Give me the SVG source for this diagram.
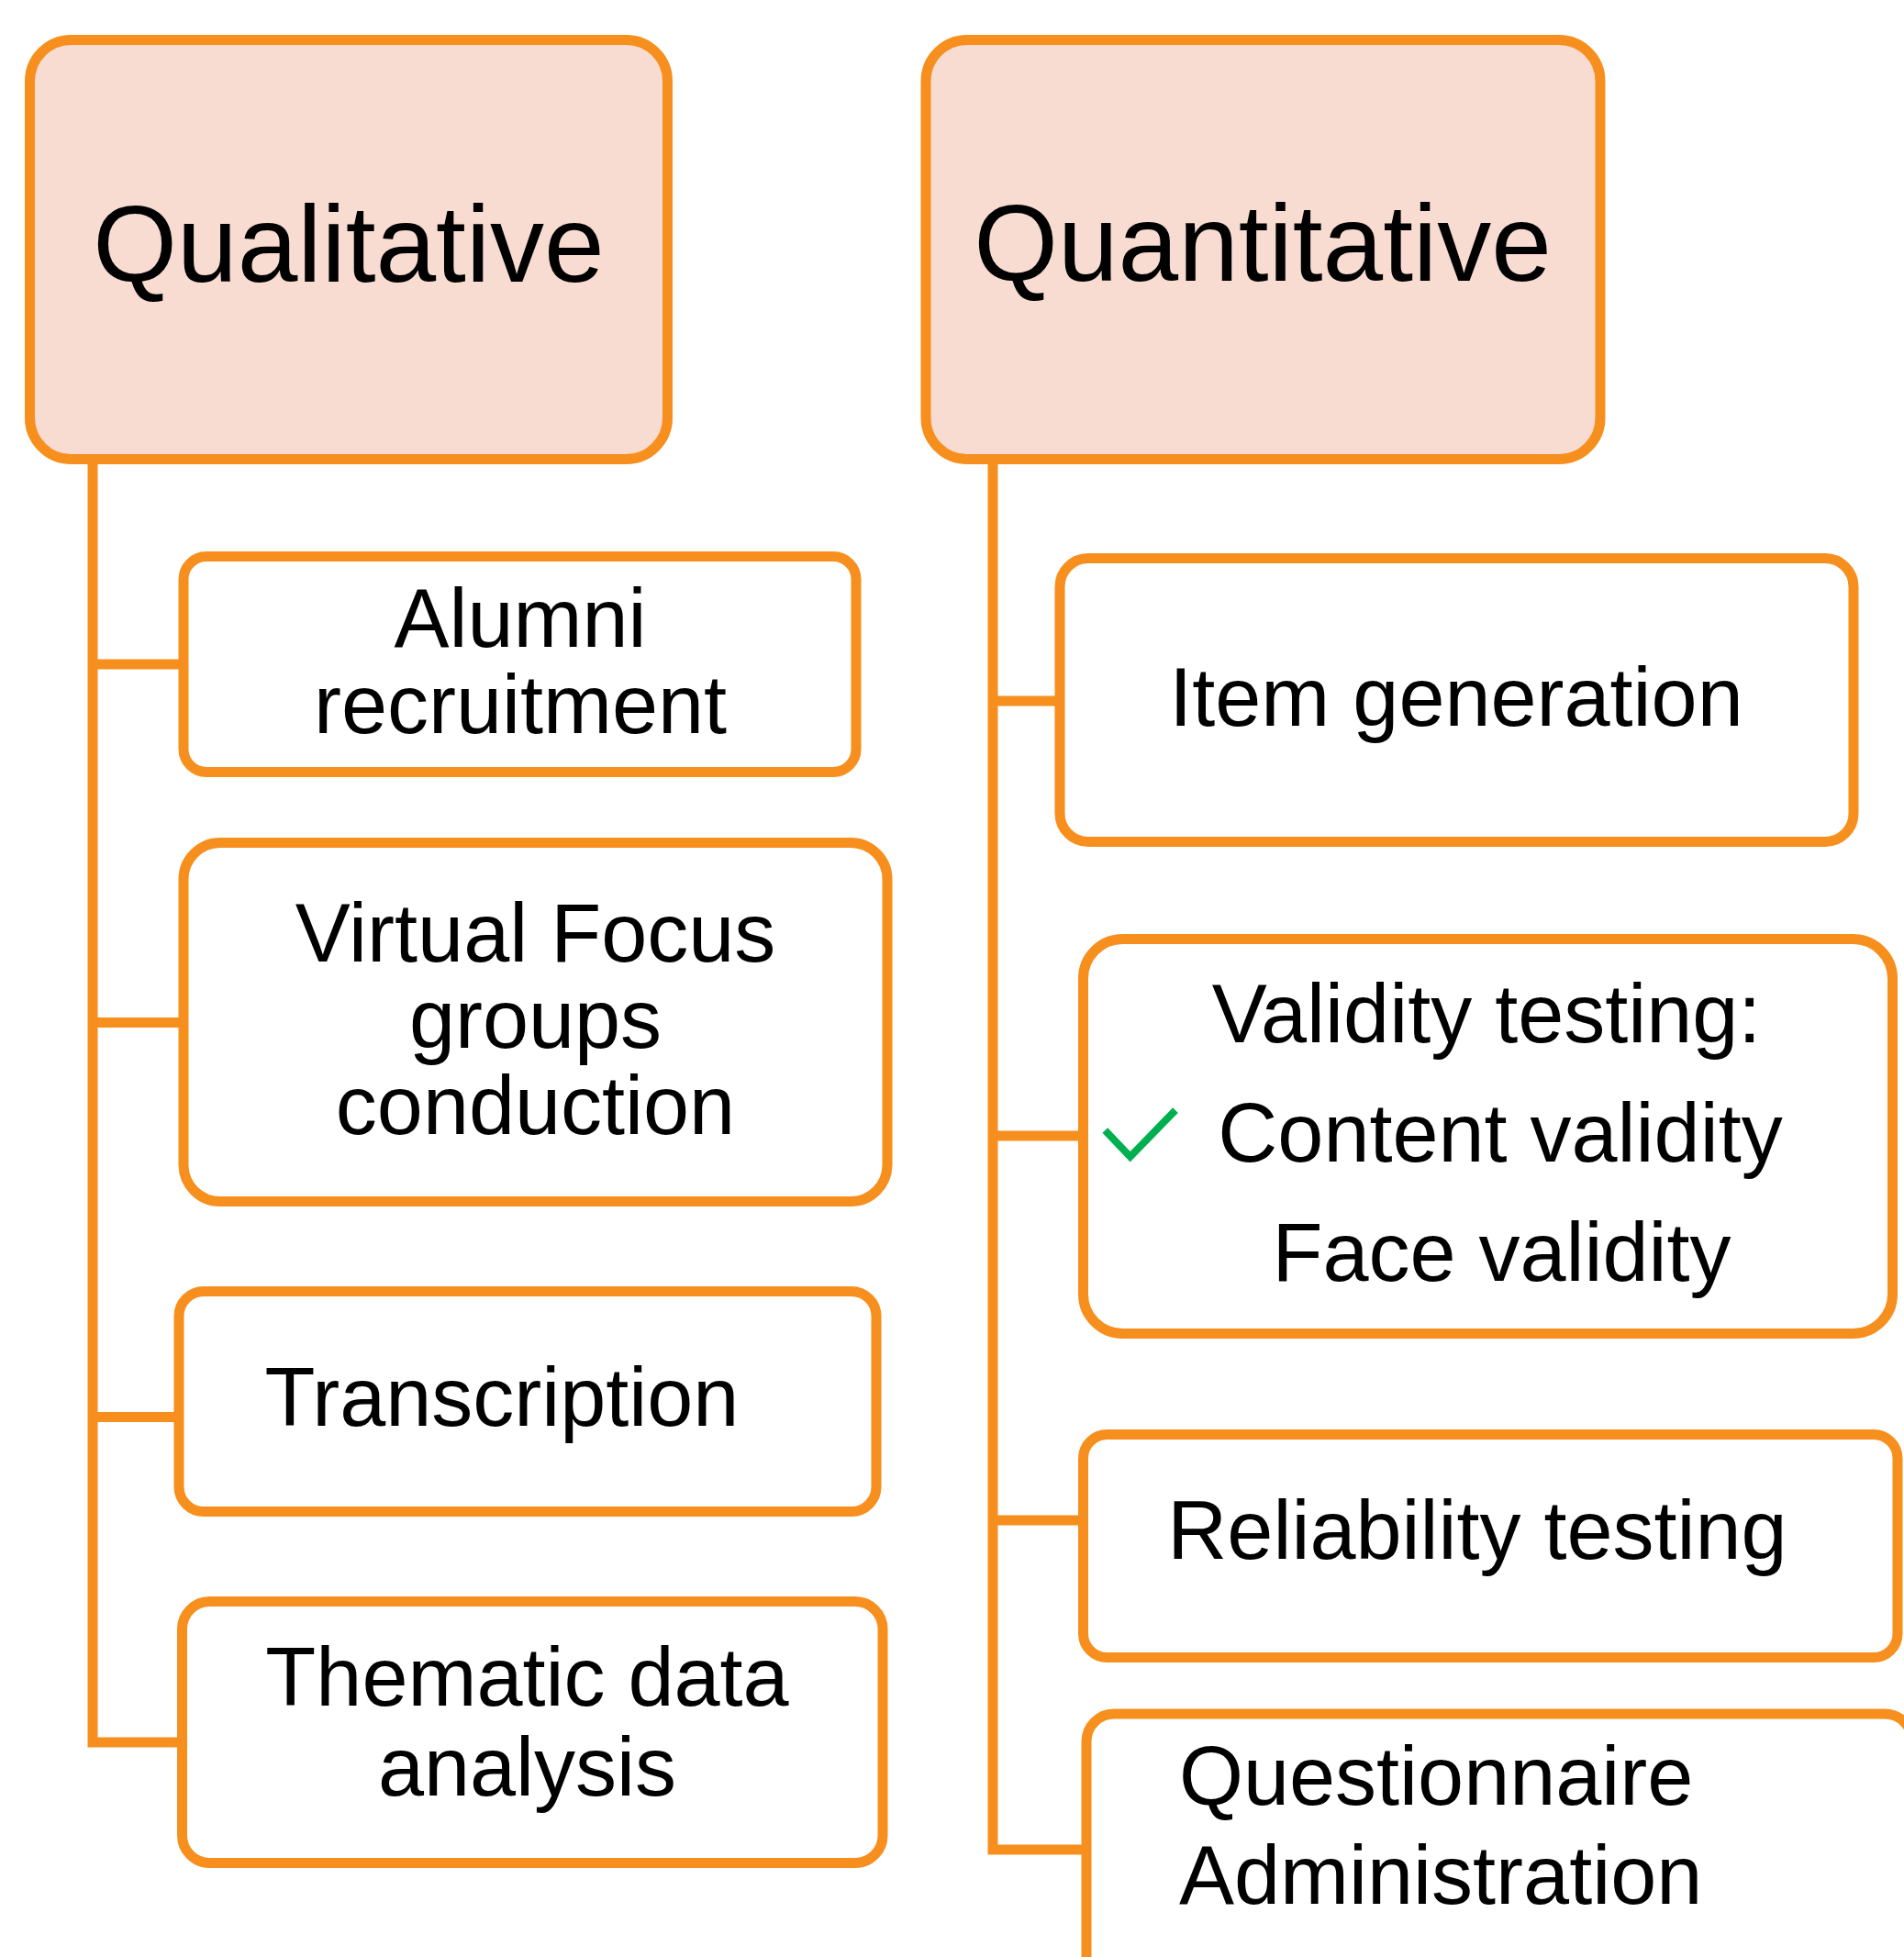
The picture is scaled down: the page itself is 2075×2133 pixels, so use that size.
<svg xmlns="http://www.w3.org/2000/svg" width="2075" height="2133" viewBox="0 0 2075 2133">
<style>
.hdr{fill:#F8DBD1;stroke:#F68F1E;stroke-width:11}
.box{fill:#FFFFFF;stroke:#F68F1E;stroke-width:11}
.con{fill:none;stroke:#F68F1E;stroke-width:11;stroke-linejoin:miter}
text{font-family:"Liberation Sans",Arial,sans-serif;fill:#000000}
.h{font-size:118px}
.t{font-size:90px}
</style>
<rect width="2075" height="2133" fill="#FFFFFF"/>
<g id="connectors">
<path class="con" d="M101 501 V1899 H198"/>
<path class="con" d="M101 724 H200"/>
<path class="con" d="M101 1114.5 H200"/>
<path class="con" d="M101 1544.5 H200"/>
<path class="con" d="M1082 501 V2016 H1184"/>
<path class="con" d="M1082 764 H1155"/>
<path class="con" d="M1082 1238 H1180"/>
<path class="con" d="M1082 1657 H1180"/>
</g>
<g id="qualitative">
<rect class="hdr" x="32.5" y="43.5" width="695" height="457" rx="45"/>
<text class="h" x="380" y="307" text-anchor="middle">Qualitative</text>
</g>
<g id="quantitative">
<rect class="hdr" x="1009" y="43.5" width="735" height="457" rx="45"/>
<text class="h" x="1376" y="306" text-anchor="middle">Quantitative</text>
</g>
<g id="alumni">
<rect class="box" x="200" y="606.5" width="733" height="235" rx="25"/>
<text class="t" x="567" y="705" text-anchor="middle">Alumni</text>
<text class="t" x="567" y="799" text-anchor="middle">recruitment</text>
</g>
<g id="focus">
<rect class="box" x="200" y="918.5" width="767" height="391" rx="40"/>
<text class="t" x="583.5" y="1048" text-anchor="middle">Virtual Focus</text>
<text class="t" x="583.5" y="1142" text-anchor="middle">groups</text>
<text class="t" x="583.5" y="1236" text-anchor="middle">conduction</text>
</g>
<g id="transcription">
<rect class="box" x="195" y="1407.5" width="760" height="240" rx="27"/>
<text class="t" x="547" y="1554" text-anchor="middle">Transcription</text>
</g>
<g id="thematic">
<rect class="box" x="198.5" y="1745.5" width="763.5" height="285" rx="30"/>
<text class="t" x="574.5" y="1859" text-anchor="middle">Thematic data</text>
<text class="t" x="574.5" y="1957" text-anchor="middle">analysis</text>
</g>
<g id="item">
<rect class="box" x="1155" y="608.5" width="865" height="309" rx="31"/>
<text class="t" x="1587" y="791" text-anchor="middle">Item generation</text>
</g>
<g id="validity">
<rect class="box" x="1180.5" y="1023.5" width="882" height="430" rx="43"/>
<text class="t" x="1620" y="1136" text-anchor="middle">Validity testing:</text>
<path d="M1204.3 1232 L1231.7 1260.7 L1281 1210.1" fill="none" stroke="#00B050" stroke-width="8"/>
<text class="t" x="1635" y="1266" text-anchor="middle">Content validity</text>
<text class="t" x="1636.5" y="1396" text-anchor="middle">Face validity</text>
</g>
<g id="reliability">
<rect class="box" x="1180.5" y="1563.5" width="887.5" height="243" rx="26"/>
<text class="t" x="1610" y="1699" text-anchor="middle">Reliability testing</text>
</g>
<g id="questionnaire">
<rect class="box" x="1184" y="1868" width="900" height="400" rx="30"/>
<text class="t" x="1285" y="1967">Questionnaire</text>
<text class="t" x="1285" y="2075">Administration</text>
</g>
</svg>
